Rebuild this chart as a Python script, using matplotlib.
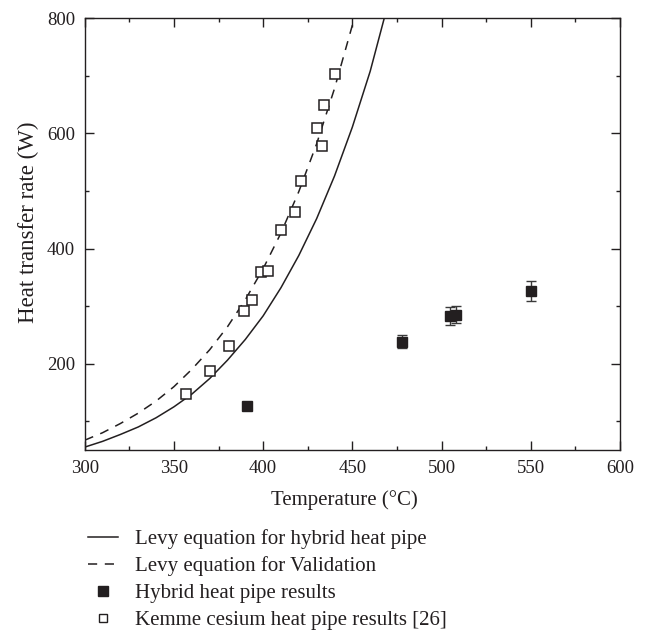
import numpy as np
import matplotlib
matplotlib.use("Agg")
import matplotlib.pyplot as plt
from matplotlib.ticker import MultipleLocator
from matplotlib.lines import Line2D

# ---- data ----
levy_hybrid_T = [300, 310, 320, 330, 340, 350, 360, 370, 380, 390, 400, 410, 420, 430, 440, 450, 460, 470]
levy_hybrid_Q = [55, 65, 77, 90, 106, 125, 147, 174, 206, 242, 283, 332, 388, 452, 526, 611, 708, 825]

levy_valid_T = [300, 310, 320, 330, 340, 350, 360, 370, 380, 390, 400, 410, 420, 430, 440, 450, 455]
levy_valid_Q = [67, 80, 96, 114, 135, 160, 190, 224, 264, 311, 365, 427, 499, 582, 678, 788, 849]

hybrid_T = [391, 478, 505, 508, 550]
hybrid_Q = [126, 238, 283, 285, 326]
hybrid_err = [5, 11, 15, 15, 17]

kemme_T = [357, 370, 381, 389, 394, 399, 403, 410, 418, 421, 430, 433, 434, 440]
kemme_Q = [148, 188, 231, 292, 310, 359, 361, 433, 463, 517, 610, 578, 650, 703]

x_ticks = [300, 350, 400, 450, 500, 550, 600]
y_ticks = [200, 400, 600, 800]

labels = ["Levy equation for hybrid heat pipe",
          "Levy equation for Validation",
          "Hybrid heat pipe results",
          "Kemme cesium heat pipe results [26]"]

# ---- style ----
plt.rcParams['font.family'] = ['Liberation Serif', 'DejaVu Serif']
ink = '#231f20'

W, H = 647, 633
fig = plt.figure(figsize=(W / 100, H / 100), dpi=100)
ax = fig.add_axes([84.7 / W, 1 - 450 / H, (620 - 84.7) / W, (450 - 18.3) / H])

l1, = ax.plot(levy_hybrid_T, levy_hybrid_Q, '-', color=ink, lw=1.1)
l2, = ax.plot(levy_valid_T, levy_valid_Q, color=ink, lw=1.1, dashes=(6, 5))
ax.errorbar(hybrid_T, hybrid_Q, yerr=hybrid_err, fmt='s', color=ink,
            ms=7.3, mec=ink, mfc=ink, ecolor='#3a3a3a', elinewidth=1.0,
            capsize=3.5, capthick=1.0, zorder=3)
ax.plot(kemme_T, kemme_Q, 's', mfc='white', mec=ink, mew=1.1, ms=7, zorder=4)

ax.set_xlim(300, 600)
ax.set_ylim(50, 800)
ax.set_xticks(x_ticks)
ax.set_yticks(y_ticks)
ax.xaxis.set_minor_locator(MultipleLocator(25))
ax.yaxis.set_minor_locator(MultipleLocator(100))
ax.tick_params(which='both', direction='in', top=True, right=True,
               colors=ink, labelsize=13.5, width=1.0)
ax.tick_params(which='major', length=6.5, pad=7)
ax.tick_params(which='minor', length=3)
for s in ax.spines.values():
    s.set_color(ink)
    s.set_linewidth(1.0)

ax.set_xlabel("Temperature (°C)", fontsize=15, color=ink)
ax.xaxis.set_label_coords(0.485, -0.093)
ax.set_ylabel("Heat transfer rate (W)", fontsize=16.5, color=ink)
ax.yaxis.set_label_coords(-0.085, 0.528)

h3 = Line2D([], [], ls='none', marker='s', color=ink, ms=6.5)
h4 = Line2D([], [], ls='none', marker='s', mfc='white', mec=ink, mew=1.0, ms=6)
leg = fig.legend([l1, l2, h3, h4], labels, loc='upper left',
                 bbox_to_anchor=(88 / W, 1 - 529 / H), frameon=False,
                 fontsize=15, handlelength=1.45, handletextpad=0.8,
                 labelspacing=0.36, borderpad=0, borderaxespad=0)
for t in leg.get_texts():
    t.set_color(ink)

fig.savefig("out.png", dpi=100)
